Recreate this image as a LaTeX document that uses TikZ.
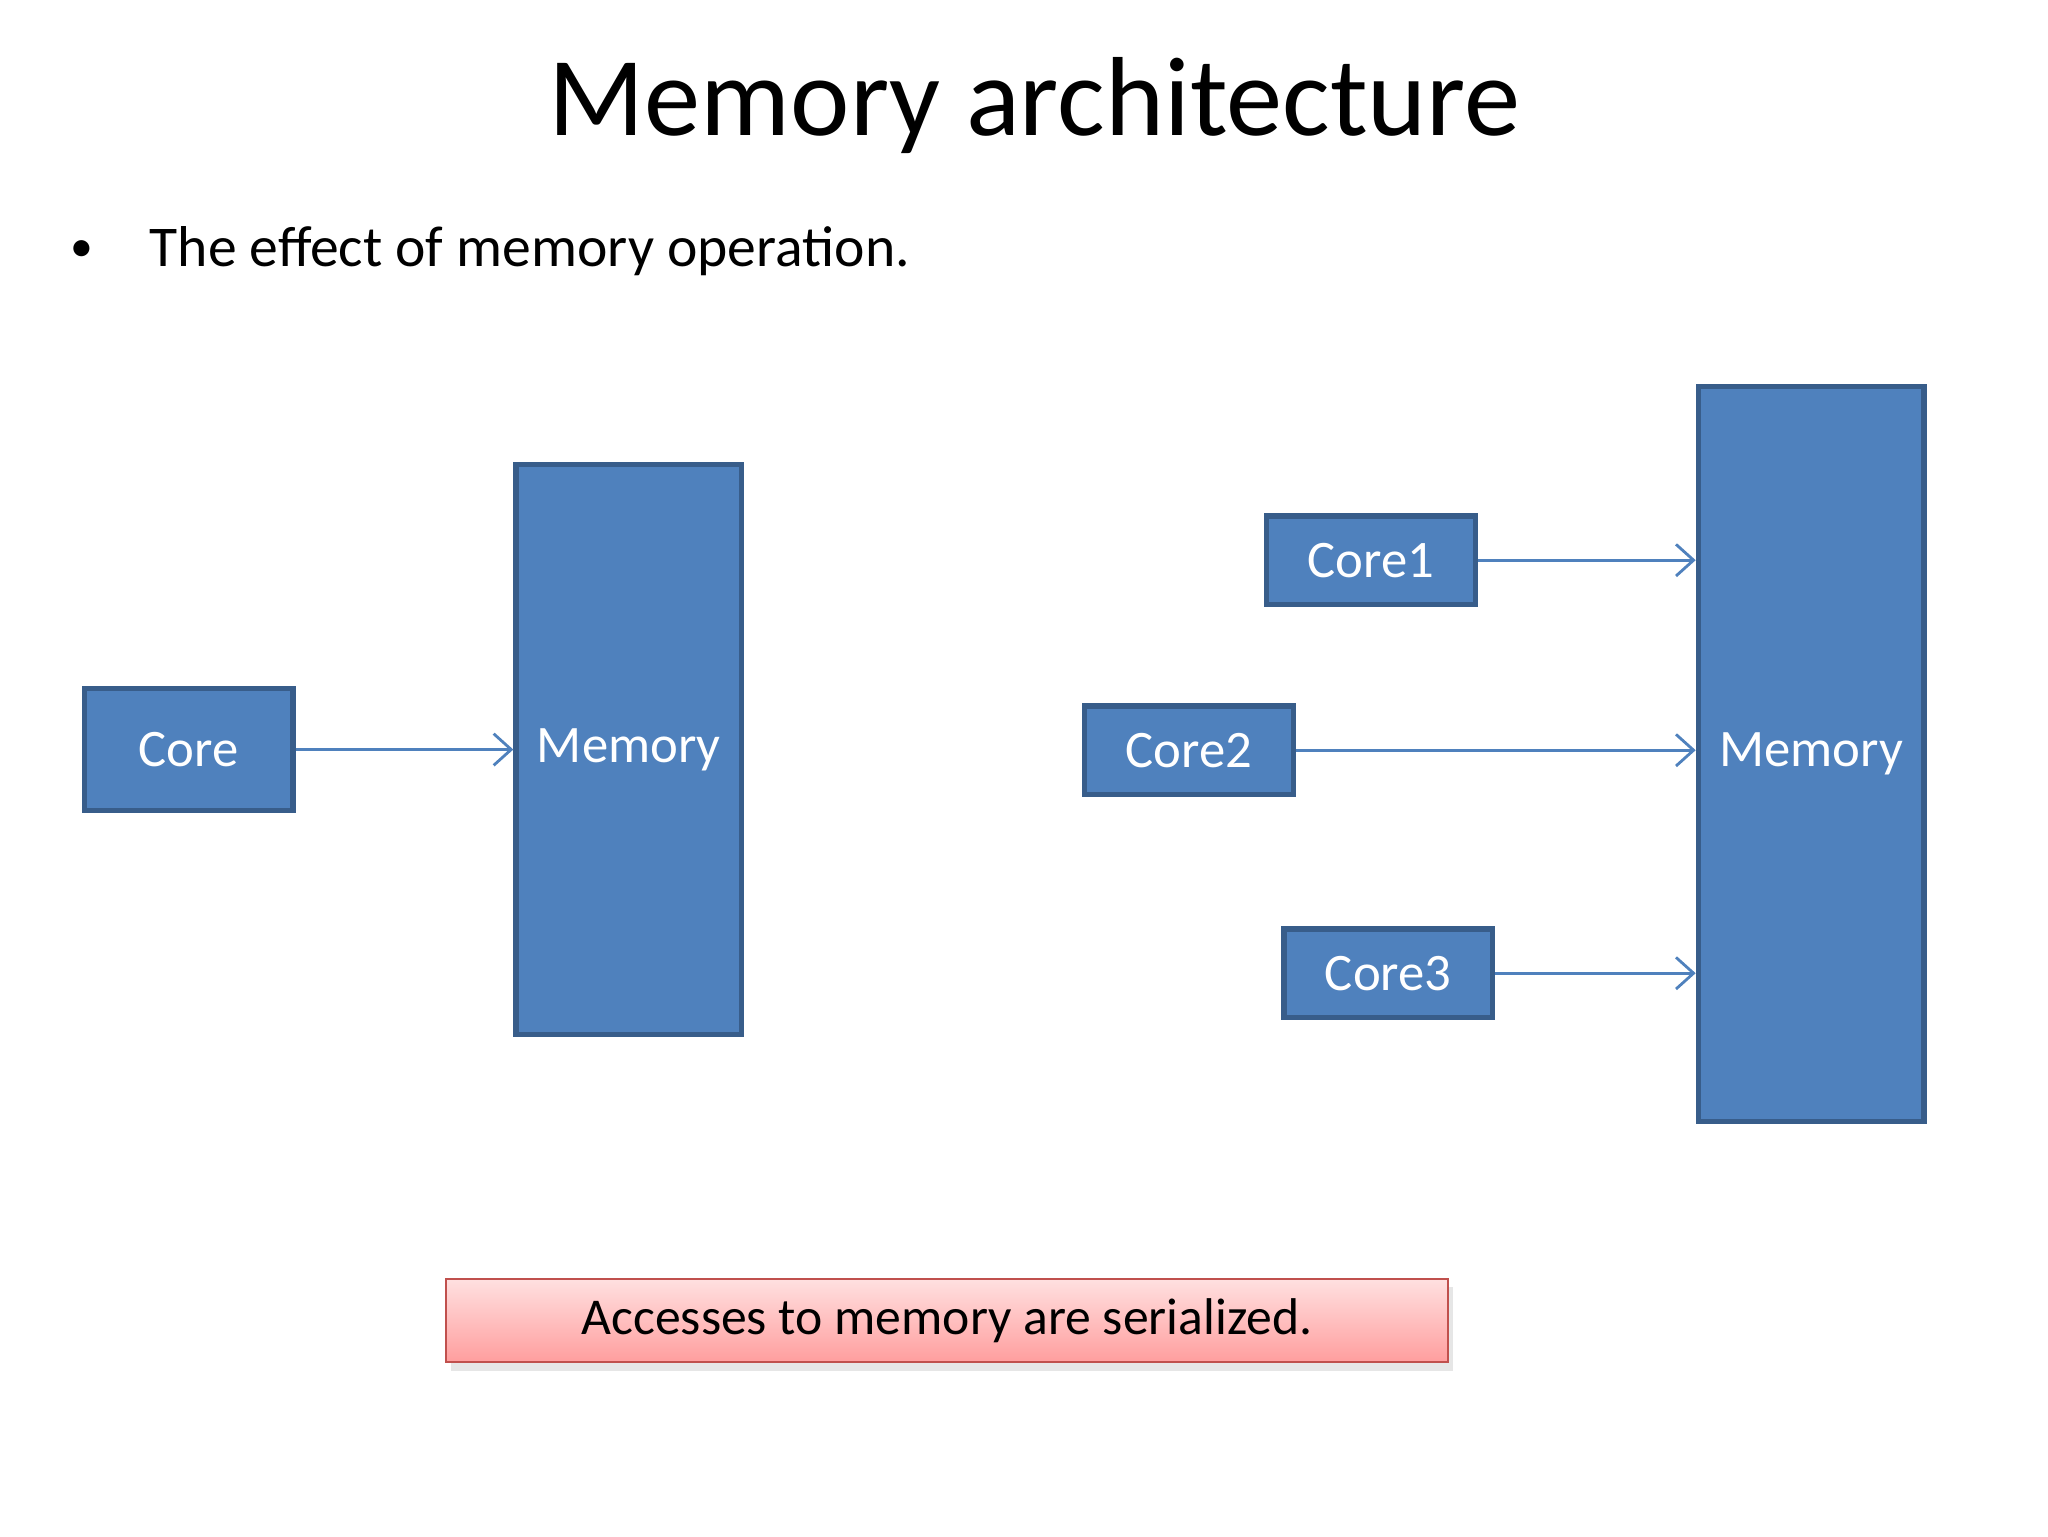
\documentclass[tikz,border=0pt]{standalone}
\usepackage{fontspec}
\setmainfont{Carlito}
\usetikzlibrary{shadows,arrows.meta}
\newcommand\px{0.013196cm}
\definecolor{boxblue}{HTML}{4F81BD}
\definecolor{boxedge}{HTML}{385D8A}
\definecolor{noteedge}{HTML}{C0504D}
\begin{document}
\begin{tikzpicture}
      [%%%%%%%%%%%%%%%%%%%%%%%%%%%%%%
      x=\px, y=-\px,
      unit/.style={rectangle,draw=boxedge,fill=boxblue,line width=1.5pt,
        text=white,font=\fontsize{15}{18}\selectfont,inner sep=0pt},
      core/.style={unit,minimum width=158*\px,minimum height=67*\px},
      link/.style={-{Straight Barb[length=5pt,width=9pt]},draw=boxblue,line width=0.8pt},
      ]%%%%%%%%%%%%%%%%%%%%%%%%%%%%%%
      \useasboundingbox (0,0) rectangle (1552,1164);

      \node (title) at (784,80) {\fontsize{32}{38}\selectfont Memory architecture};
      \node (bullet) at (62,190) {\fontsize{13}{16}\selectfont •};
      \node[anchor=west,inner sep=0pt] (intro) at (113,190)
        {\fontsize{16.4}{20}\selectfont The effect of memory operation.};

      % single core
      \node[core,minimum height=92*\px] (core) at (143,568) {Core};
      \node[unit,minimum width=171*\px,minimum height=432*\px] (mem) at (476.5,568) {Memory};
      \draw[link] (core.east) -- (core.east -| mem.west);

      % three cores
      \node[unit,minimum width=171*\px,minimum height=557*\px] (mem2) at (1372.5,571.5) {Memory};
      \node[core] (core1) at (1039,424.5) {Core1};
      \node[core] (core2) at (901,568.5) {Core2};
      \node[core] (core3) at (1052,737.5) {Core3};
      \foreach \c in {core1,core2,core3}
        \draw[link] (\c.east) -- (\c.east -| mem2.west);

      \node[rectangle,draw=noteedge,line width=0.6pt,top color=red!12,bottom color=red!38,
        drop shadow={shadow xshift=1.5pt,shadow yshift=-2.5pt,opacity=0.2},
        minimum width=759*\px,minimum height=63*\px,font=\fontsize{14.7}{18}\selectfont]
        (note) at (717.5,1000.5) {Accesses to memory are serialized.};
    \end{tikzpicture}
\end{document}
